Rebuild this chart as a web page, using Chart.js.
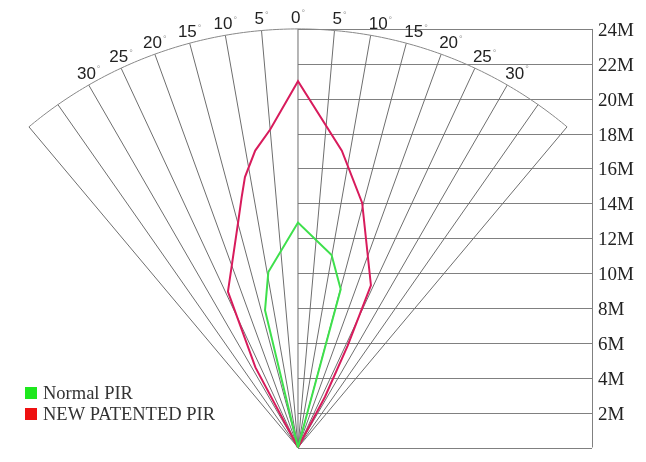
<!DOCTYPE html>
<html>
<head>
<meta charset="utf-8">
<script src="https://cdn.jsdelivr.net/npm/chart.js@4.4.1/dist/chart.umd.min.js"></script>
<style>
  body { margin: 0; background: #fff; }
  canvas { display: block; }
</style>
</head>
<body>
<canvas id="myChart" width="646" height="462"></canvas>
<script>
// fan of detection angles (degrees) and range ticks (metres)
const fanAngles = [-40, -35, -30, -25, -20, -15, -10, -5, 0, 5, 10, 15, 20, 25, 30, 35, 40];
const angleLabels = [0, 5, 10, 15, 20, 25, 30];
const rangeTicks = [2, 4, 6, 8, 10, 12, 14, 16, 18, 20, 22, 24];
const rangeLabels = ["2M", "4M", "6M", "8M", "10M", "12M", "14M", "16M", "18M", "20M", "22M", "24M"];
const maxRange = 24;

// detection outlines, angle (deg) / range (m) per vertex
const normalAngles = [0, -13.5, -9.6, 0, 9.9, 15.1, 0];
const normalRanges = [0, 8.1, 10.2, 12.9, 11.2, 9.4, 0];

const patentAngles = [0, -28, -24.2, -15, -12.7, -11.1, -8.2, -5, 0, 8.4, 14.7, 24.2, 26, 28, 0];
const patentRanges = [0, 5.2, 9.8, 13.3, 14.7, 15.8, 17.2, 18.3, 21, 17.2, 14.5, 10.2, 6.5, 3.3, 0];

const seriesNames = ["Normal PIR", "NEW PATENTED PIR"];
const legendColors = ["#1ee81e", "#ee1111"];

function toXY(angles, ranges) {
    let pts = [];
    for (let i = 0; i < angles.length; i++) {
        let a = angles[i] * Math.PI / 180;
        pts.push({ x: ranges[i] * Math.sin(a), y: ranges[i] * Math.cos(a) });
    }
    return pts;
}

const boxRight = 16.86;

const gridPlugin = {
    id: 'pirGrid',
    beforeDatasetsDraw(chart) {
        let { ctx, scales: { x, y } } = chart;
        let px = (vx) => x.getPixelForValue(vx);
        let py = (vy) => y.getPixelForValue(vy);
        ctx.save();
        ctx.strokeStyle = '#808080';
        ctx.lineWidth = 1;

        // range lines on the right
        ctx.beginPath();
        [0].concat(rangeTicks).forEach(r => {
            ctx.moveTo(px(0), Math.round(py(r)) + 0.5);
            ctx.lineTo(px(boxRight), Math.round(py(r)) + 0.5);
        });
        ctx.moveTo(Math.round(px(boxRight)) + 0.5, py(0));
        ctx.lineTo(Math.round(px(boxRight)) + 0.5, py(maxRange));
        ctx.stroke();

        // fan lines
        ctx.strokeStyle = '#6e6e6e';
        ctx.beginPath();
        fanAngles.forEach(d => {
            let a = d * Math.PI / 180;
            ctx.moveTo(px(0), py(0));
            ctx.lineTo(px(maxRange * Math.sin(a)), py(maxRange * Math.cos(a)));
        });
        ctx.stroke();

        // arc
        ctx.strokeStyle = '#888';
        ctx.beginPath();
        for (let d = fanAngles[0]; d <= fanAngles[fanAngles.length - 1]; d += 0.5) {
            let a = d * Math.PI / 180;
            let X = px(maxRange * Math.sin(a)), Y = py(maxRange * Math.cos(a));
            if (d === fanAngles[0]) ctx.moveTo(X, Y); else ctx.lineTo(X, Y);
        }
        ctx.stroke();

        // angle labels
        ctx.textBaseline = 'middle';
        angleLabels.forEach(d => {
            [-1, 1].forEach(side => {
                if (d === 0 && side === 1) return;
                let a = side * d * Math.PI / 180;
                let X = px(maxRange * Math.sin(a)), Y = py(maxRange * Math.cos(a)) - 11;
                let txt = String(d);
                ctx.font = '17px "Liberation Sans", Arial, sans-serif';
                let w1 = ctx.measureText(txt).width;
                ctx.font = '9px "Liberation Sans", Arial, sans-serif';
                let w2 = ctx.measureText('°').width;
                let left = side < 0 || d === 0 ? X - (w1 + w2 + 1) / 2 : X - 2;
                ctx.textAlign = 'left';
                ctx.fillStyle = '#222';
                ctx.font = '17px "Liberation Sans", Arial, sans-serif';
                ctx.fillText(txt, left, Y);
                ctx.fillStyle = '#999';
                ctx.font = '9px "Liberation Sans", Arial, sans-serif';
                ctx.fillText('°', left + w1 + 1, Y - 4);
            });
        });

        // range labels
        ctx.fillStyle = '#222';
        ctx.font = '19px "Liberation Serif", "DejaVu Serif", serif';
        ctx.textAlign = 'left';
        rangeTicks.forEach((r, i) => {
            ctx.fillText(rangeLabels[i], px(boxRight) + 6, py(r) + 2);
        });

        // legend
        ctx.font = '18.5px "Liberation Serif", "DejaVu Serif", serif';
        seriesNames.forEach((name, i) => {
            let top = 387 + i * 21;
            ctx.fillStyle = legendColors[i];
            ctx.fillRect(25, top, 12, 12);
            ctx.fillStyle = '#333';
            ctx.fillText(name, 43, top + 7);
        });
        ctx.restore();
    }
};

new Chart(document.getElementById('myChart'), {
    type: 'scatter',
    data: {
        datasets: [{
            label: seriesNames[0],
            data: toXY(normalAngles, normalRanges),
            showLine: true,
            borderColor: '#3ee04c',
            borderWidth: 2,
            pointRadius: 0,
            tension: 0
        }, {
            label: seriesNames[1],
            data: toXY(patentAngles, patentRanges),
            showLine: true,
            borderColor: '#d81b5c',
            borderWidth: 2,
            pointRadius: 0,
            tension: 0
        }]
    },
    options: {
        responsive: false,
        animation: false,
        layout: { padding: 0 },
        plugins: { legend: { display: false }, tooltip: { enabled: false } },
        scales: {
            x: { type: 'linear', display: false, min: -17.087, max: 19.954 },
            y: { type: 'linear', display: false, min: -0.831, max: 25.659 }
        }
    },
    plugins: [gridPlugin]
});
</script>
</body>
</html>
